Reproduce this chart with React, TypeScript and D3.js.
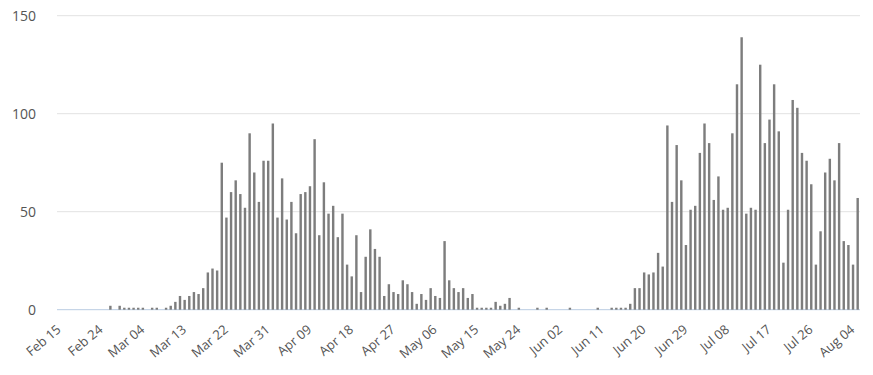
import React from "react";
import * as d3 from "d3";

const values: number[] = [
  0, 0, 0, 0, 0, 0, 0, 0, 0, 0, 0, 2, 0, 2, 1, 1, 1, 1, 1, 0,
  1, 1, 0, 1, 2, 4, 7, 5, 7, 9, 8, 11, 19, 21, 20, 75, 47, 60, 66, 59,
  52, 90, 70, 55, 76, 76, 95, 47, 67, 46, 55, 39, 59, 60, 63, 87, 38, 65, 49, 53,
  37, 49, 23, 17, 38, 9, 27, 41, 31, 27, 7, 13, 9, 8, 15, 13, 9, 3, 8, 5,
  11, 7, 6, 35, 15, 11, 9, 11, 6, 8, 1, 1, 1, 1, 4, 2, 3, 6, 0, 1,
  0, 0, 0, 1, 0, 1, 0, 0, 0, 0, 1, 0, 0, 0, 0, 0, 1, 0, 0, 1,
  1, 1, 1, 3, 11, 11, 19, 18, 19, 29, 22, 94, 55, 84, 66, 33, 51, 53, 80, 95,
  85, 56, 68, 51, 52, 90, 115, 139, 49, 52, 51, 125, 85, 97, 115, 91, 24, 51, 107, 103,
  80, 76, 64, 23, 40, 70, 77, 66, 85, 35, 33, 23, 57,
];

const tickLabels: string[] = [
  "Feb 15", "Feb 24", "Mar 04", "Mar 13", "Mar 22", "Mar 31", "Apr 09", "Apr 18",
  "Apr 27", "May 06", "May 15", "May 24", "Jun 02", "Jun 11", "Jun 20", "Jun 29",
  "Jul 08", "Jul 17", "Jul 26", "Aug 04",
];
const tickStep = 9;
const yTicks: number[] = [0, 50, 100, 150];

export default function App() {
  const W = 873;
  const H = 375;
  const x = d3
    .scaleBand<number>()
    .domain(d3.range(values.length))
    .range([57, 860])
    .paddingInner(0.48)
    .paddingOuter(0.24);
  const y = d3.scaleLinear().domain([0, 150]).range([309.7, 15.7]);
  const bw = x.bandwidth();
  const font = "'Open Sans', 'DejaVu Sans', sans-serif";

  return (
    <svg
      width={W}
      height={H}
      style={{ position: "fixed", left: 0, top: 0, background: "#fff" }}
    >
      {yTicks.map((t) => (
        <g key={t}>
          <line
            x1={57}
            x2={860}
            y1={y(t)}
            y2={y(t)}
            stroke={t === 0 ? "#b9cce2" : "#e2e2e2"}
            strokeWidth={1}
          />
          <text
            x={36}
            y={y(t)}
            dy="0.35em"
            textAnchor="end"
            fontFamily={font}
            fontSize={14}
            fill="#555"
          >
            {t}
          </text>
        </g>
      ))}
      {values.map((v, i) => (
        <rect
          key={i}
          x={x(i)}
          y={y(v)}
          width={bw}
          height={Math.max(0, y(0) - y(v))}
          fill="#7d7d7d"
        />
      ))}
      {tickLabels.map((lab, k) => {
        const i = k * tickStep;
        const cx = (x(i) as number) + bw / 2;
        return (
          <text
            key={lab}
            transform={`translate(${cx + 2.5},${331}) rotate(-40)`}
            textAnchor="end"
            fontFamily={font}
            fontSize={13}
            fill="#555"
          >
            {lab}
          </text>
        );
      })}
    </svg>
  );
}
